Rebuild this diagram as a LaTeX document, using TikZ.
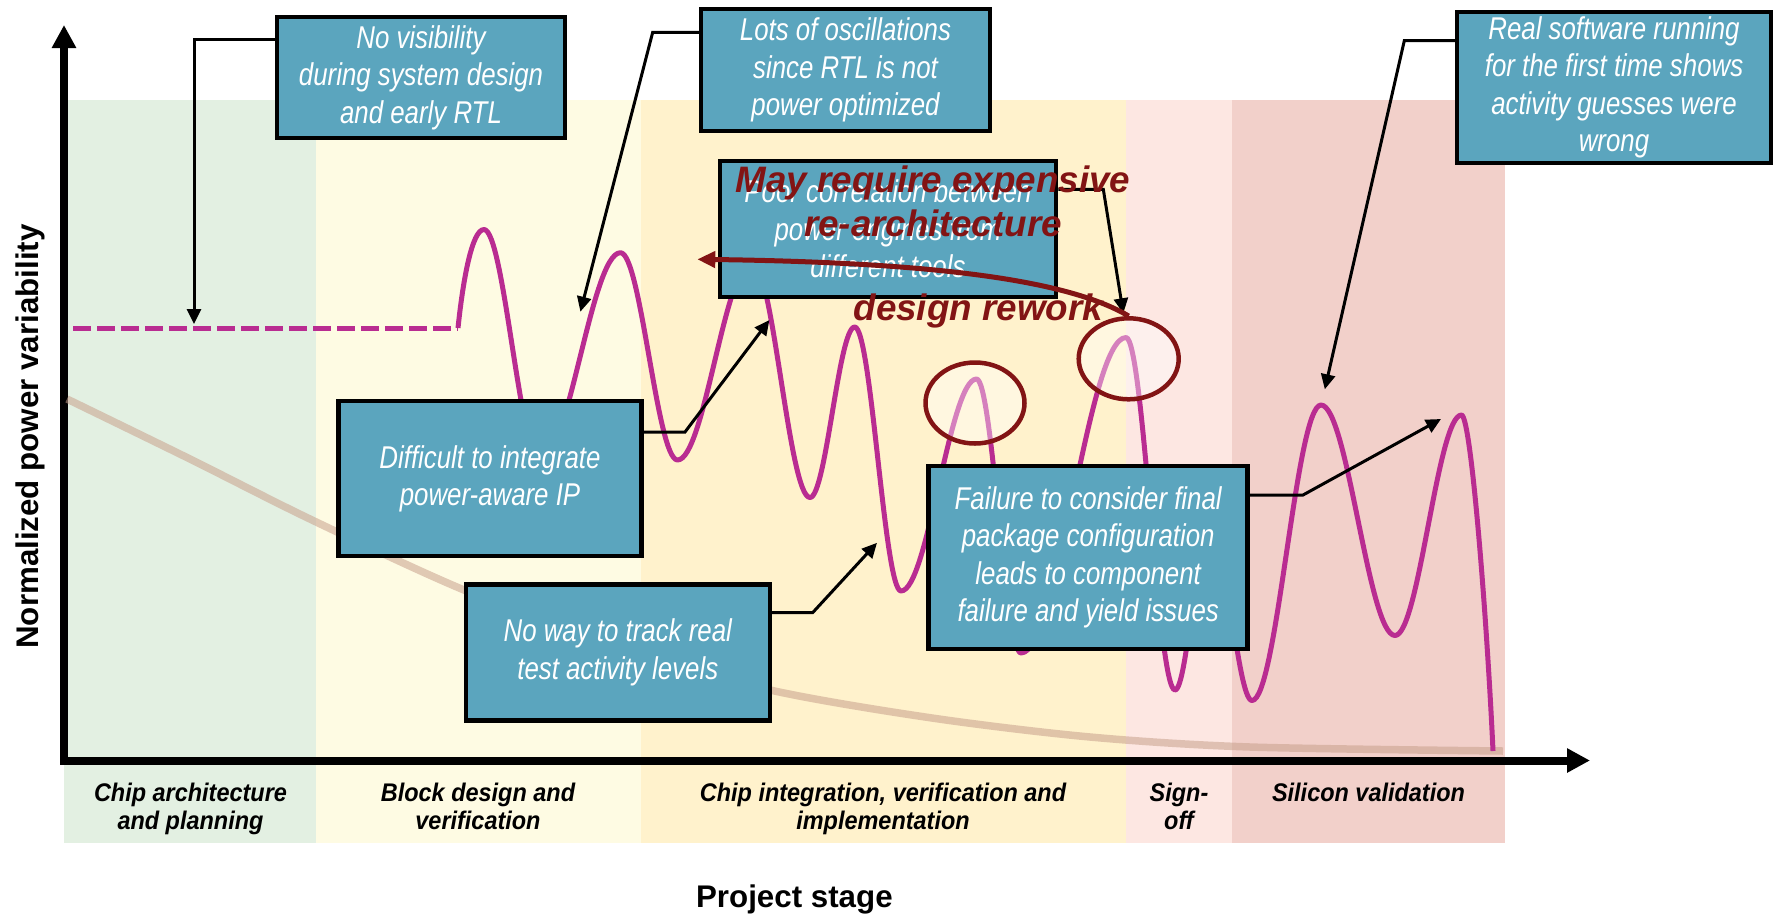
\documentclass[tikz,border=0pt]{standalone}
\usepackage{fontspec}
\setmainfont{Liberation Sans}
\newfontfamily\narrowfam{Liberation Sans}[FakeStretch=0.82]
\newfontfamily\stagefam{Liberation Sans}[FakeStretch=0.92]
\usetikzlibrary{arrows.meta, shapes.geometric}
\definecolor{bgreen}{RGB}{227,240,226}
\definecolor{bpyel}{RGB}{254,251,227}
\definecolor{byel}{RGB}{255,242,204}
\definecolor{bpink}{RGB}{253,231,226}
\definecolor{bpinkb}{RGB}{242,208,202}
\definecolor{boxblue}{RGB}{91,165,190}
\definecolor{mag}{RGB}{185,44,145}
\definecolor{dred}{RGB}{130,20,20}
\definecolor{tanc}{RGB}{200,160,140}
\newcommand\bxfont{\narrowfam\itshape\fontsize{31.5}{37.5}\selectfont}
\newcommand\stgfont{\stagefam\bfseries\itshape\fontsize{25.5}{27.6}\selectfont}
\newcommand\axfont{\bfseries\fontsize{31.3}{36}\selectfont}
\newcommand\redfont{\bfseries\itshape\fontsize{36.8}{44}\selectfont}
\begin{document}
\begin{tikzpicture}[x=1pt, y=-1pt,
 axisln/.style={line width=8pt, -{Triangle[length=23pt,width=23pt]}},
 magline/.style={draw=mag, line width=5pt},
 cbox/.style={draw=black, line width=4.5pt, fill=boxblue, text=white, font=\bxfont, align=center, inner sep=0pt,
   execute at begin node={\rule{0pt}{35pt}}},
 conn/.style={draw=black, line width=3pt, -{Triangle[length=15pt,width=14pt]}},
 ring/.style={ellipse, draw=dred, line width=4.5pt, fill=white, fill opacity=0.4, inner sep=0pt, minimum width=99pt, minimum height=81pt},
 redtxt/.style={text=dred, font=\redfont, align=center, inner sep=0pt},
 stage/.style={font=\stgfont, align=center, inner sep=0pt, anchor=north},
 axlbl/.style={font=\axfont, inner sep=0pt}]
\useasboundingbox (0,0) rectangle (1773,914);
% bands
\fill[bgreen] (64,100) rectangle (315.5,843);
\fill[bpyel] (315.5,100) rectangle (640.5,843);
\fill[byel] (640.5,100) rectangle (1126,843);
\fill[bpink] (1126,100) rectangle (1231.5,843);
\fill[bpinkb] (1231.5,100) rectangle (1505,843);
% axes
\coordinate (XO) at (60,760.5);
\coordinate (XE) at (1590,760.5);
\coordinate (YO) at (64,764.5);
\coordinate (YE) at (64,25);
\draw[axisln] (XO) -- (XE);
\draw[axisln] (YO) -- (YE);
% tan decreasing curve
\draw[tanc, line width=7.5pt, opacity=0.55] plot[smooth, tension=0.5] coordinates {(67,399) (190,459) (312,520) (464,590) (620,648) (770,690) (932,718) (1090,737) (1250,747) (1503,751)};
% magenta curve
\coordinate (dS) at (73,328);
\coordinate (dE) at (458,328);
\draw[magline, dash pattern=on 18pt off 6pt] (dS) -- (dE);
\draw[magline, line join=round] (dE) .. controls (463,280) and (472,229.5) .. (484,229.5)
 .. controls +(20,0) and +(-20,0) .. (540,460)
 .. controls +(29,0) and +(-29,0) .. (620.5,252.7)
 .. controls +(20.5,0) and +(-20.5,0) .. (677.5,460)
 .. controls +(27,0) and +(-27,0) .. (752,262)
 .. controls +(21,0) and +(-21,0) .. (810,497.5)
 .. controls +(16,0) and +(-16,0) .. (854.7,327)
 .. controls +(16.7,0) and +(-16.7,0) .. (901,591)
 .. controls +(27,0) and +(-27,0) .. (976.5,379)
 .. controls +(16,0) and +(-16,0) .. (1021,653)
 .. controls +(38,0) and +(-38,0) .. (1126,337.5)
 .. controls +(17.6,0) and +(-17.6,0) .. (1175,690)
 .. controls +(12.6,0) and +(-12.6,0) .. (1210,520)
 .. controls +(15,0) and +(-15,0) .. (1252,700.5)
 .. controls +(25,0) and +(-25,0) .. (1321,405)
 .. controls +(26.6,0) and +(-26.6,0) .. (1395,635.5)
 .. controls +(24,0) and +(-24,0) .. (1461.5,415)
 .. controls (1471,415) and (1487,620) .. (1493,751);
% boxes
\node[cbox, minimum width=288pt, minimum height=121pt] (NoVis) at (421,77.5) {No visibility\\during system design\\and early RTL};
\node[cbox, minimum width=289pt, minimum height=122pt] (Lots) at (845.5,70) {Lots of oscillations\\since RTL is not\\power optimized};
\node[cbox, minimum width=336pt, minimum height=136pt] (Poor) at (888,229) {Poor correlation between\\power engines from\\different tools};
\node[cbox, minimum width=303pt, minimum height=155pt] (Diff) at (490,478.7) {Difficult to integrate\\power-aware IP};
\node[cbox, minimum width=304pt, minimum height=136pt] (NoWay) at (617.8,652.5) {No way to track real\\test activity levels};
\node[cbox, minimum width=319pt, minimum height=183pt] (Fail) at (1088.2,557.4) {Failure to consider final\\package configuration\\leads to component\\failure and yield issues};
\node[cbox, minimum width=314pt, minimum height=151pt] (Real) at (1614,87.5) {Real software running\\for the first time shows\\activity guesses were\\wrong};
% connectors
\coordinate (nvA) at (194,39.3); \coordinate (nvT) at (194,324);
\draw[conn] (NoVis.west |- nvA) -- (nvA) -- (nvT);
\coordinate (loA) at (652.7,32.3); \coordinate (loT) at (580.4,311.7);
\draw[conn] (Lots.west |- loA) -- (loA) -- (loT);
\coordinate (poA) at (1103.3,189.3); \coordinate (poT) at (1123.3,313.3);
\draw[conn] (Poor.east |- poA) -- (poA) -- (poT);
\coordinate (diA) at (685,432); \coordinate (diT) at (769.4,320);
\draw[conn] (Diff.east |- diA) -- (diA) -- (diT);
\coordinate (nwA) at (812.7,612.6); \coordinate (nwT) at (877,542.8);
\draw[conn] (NoWay.east |- nwA) -- (nwA) -- (nwT);
\coordinate (faA) at (1303,495); \coordinate (faT) at (1441,419);
\draw[conn] (Fail.east |- faA) -- (faA) -- (faT);
\coordinate (reA) at (1404.3,40.7); \coordinate (reT) at (1324.8,389.3);
\draw[conn] (Real.west |- reA) -- (reA) -- (reT);
% circles
\node[ring] (C1) at (975,403) {};
\node[ring, minimum width=100pt] (C2) at (1128.7,358.8) {};
% red arrow and text
\coordinate (rT) at (697.3,259.3);
\draw[dred, line width=5pt, -{Triangle[length=18pt,width=16pt]}] (C2.north) .. controls (1060,275) and (900,262) .. (rT);
\node[redtxt, anchor=north] (R1) at (933,165.5) {May require expensive\\re-architecture};
\node[redtxt, anchor=base] (R2) at (978.3,320.5) {design rework};
% stage labels
\node[stage] (S1) at (190.5,783) {Chip architecture\\and planning};
\node[stage] (S2) at (478,783) {Block design and\\verification};
\node[stage] (S3) at (883,783) {Chip integration, verification and\\implementation};
\node[stage] (S4) at (1179,783) {Sign-\\off};
\node[stage] (S5) at (1368.5,783) {Silicon validation};
% axis labels
\node[axlbl, rotate=90, anchor=base] (YL) at (38,436.5) {Normalized power variability};
\node[axlbl, anchor=base] (XL) at (794.4,907) {Project stage};
\end{tikzpicture}
\end{document}
